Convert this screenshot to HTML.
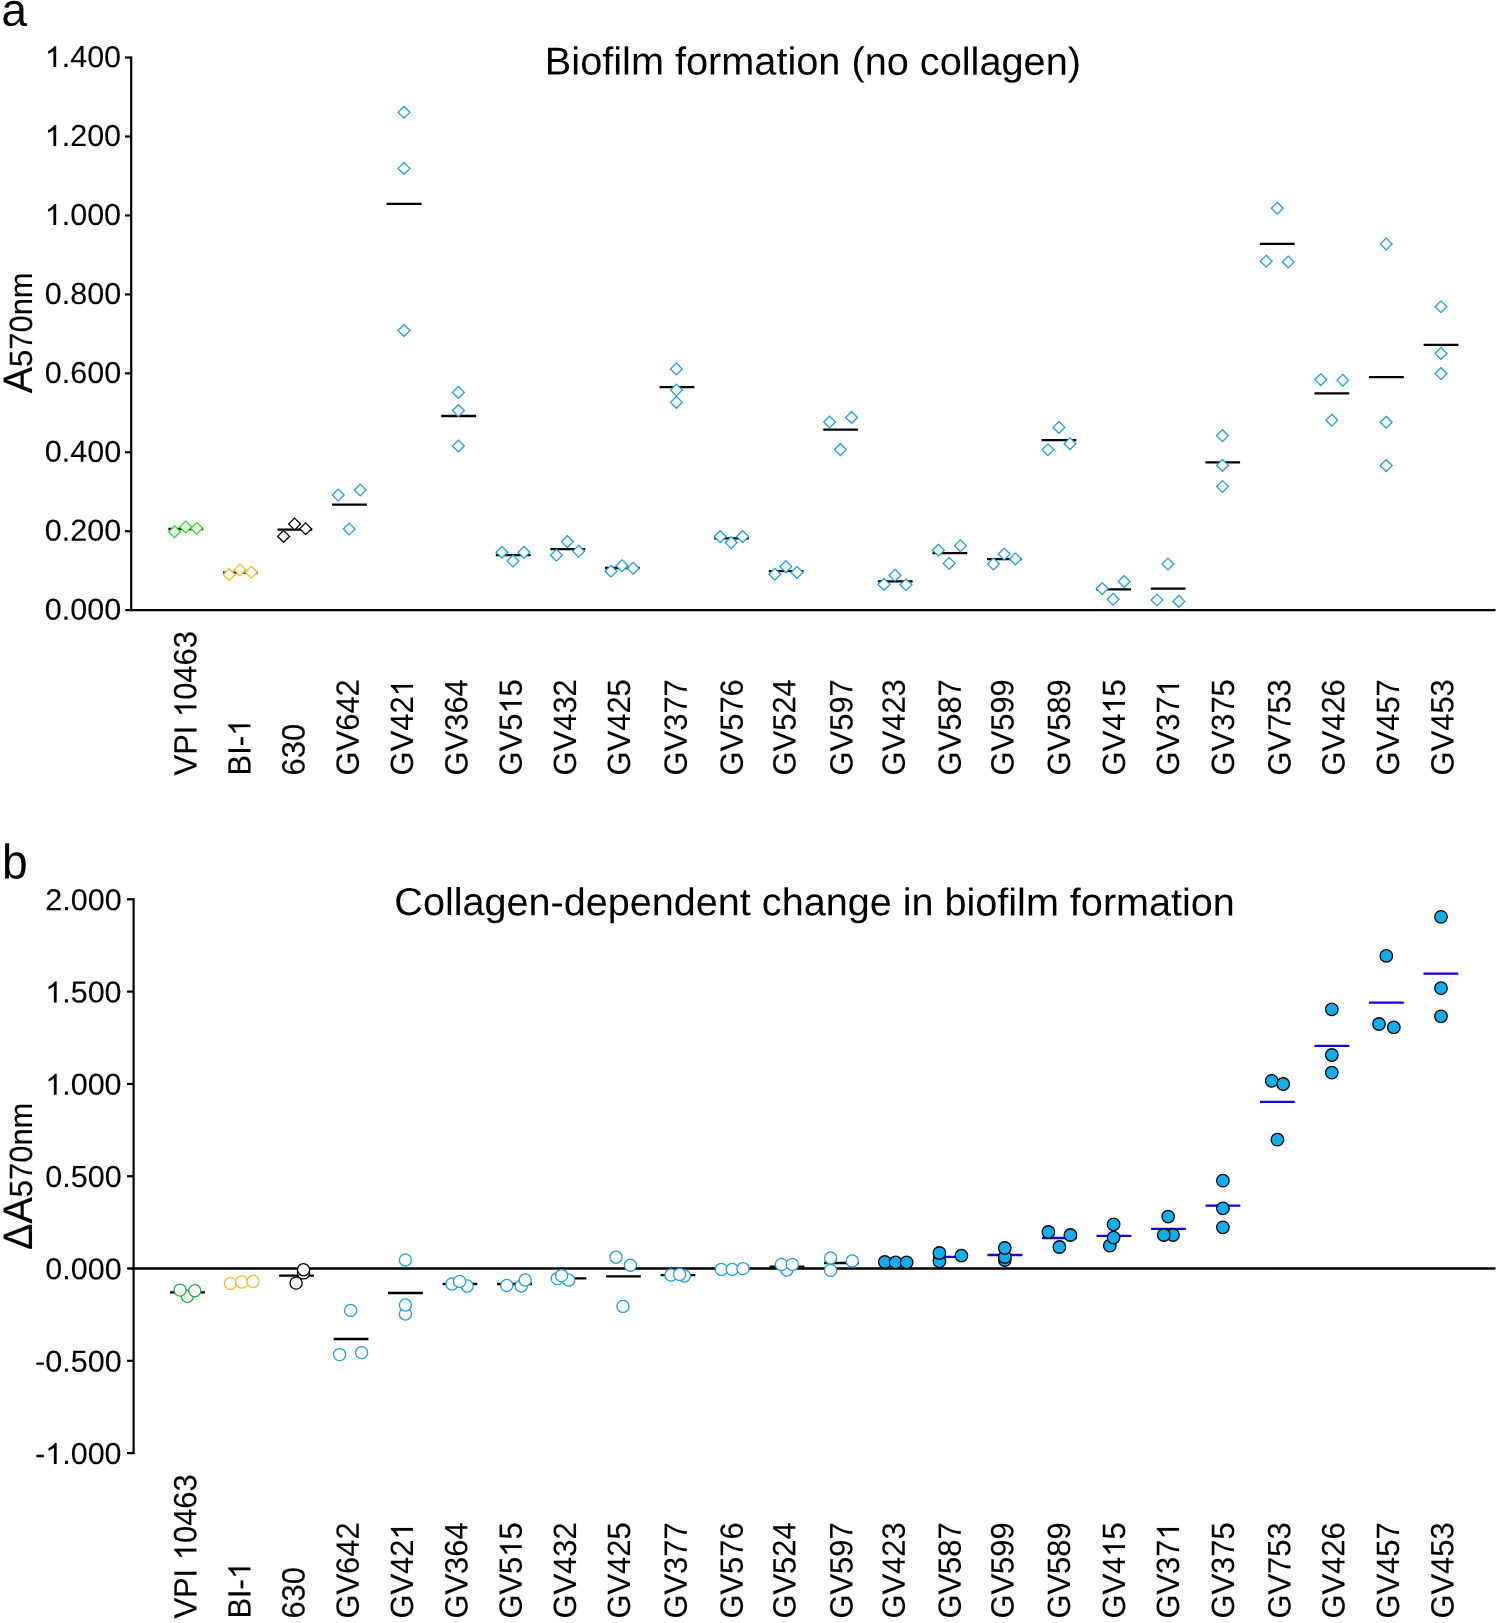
<!DOCTYPE html>
<html><head><meta charset="utf-8"><title>Biofilm formation</title>
<style>html,body{margin:0;padding:0;background:#fff}svg{display:block;will-change:transform}text{font-family:"Liberation Sans",sans-serif;fill:#000;stroke:#000;stroke-width:0.12px}.h{fill:none;stroke:none}.ns{stroke:none}</style>
</head><body>
<svg width="1499" height="1623" viewBox="0 0 1499 1623">
<rect width="1499" height="1623" fill="#fff"/>
<text class="ns" transform="translate(1.20,25.80) rotate(0.03) scale(1.0,1)" font-size="46.4" text-anchor="start">a</text>
<text class="ns" transform="translate(2.10,878.60) rotate(0.03) scale(0.975,1.03)" font-size="47.3" text-anchor="start">b</text>
<text class="ns" transform="translate(812.90,74.60) rotate(0.03) scale(1.0,0.98)" font-size="39.7" text-anchor="middle">Biofilm formation (no collagen)</text>
<text class="ns" transform="translate(814.60,915.30) rotate(0.03) scale(1.0,0.98)" font-size="39.6" text-anchor="middle">Collagen-dependent change in biofilm formation</text>
<g stroke="#000" stroke-width="2.2" fill="none" stroke-linecap="butt">
<path d="M131.2,56.45 V610.1"/>
<path d="M126.1,610.1 H1494.7" stroke-width="2.3" stroke-linecap="round"/>
<path d="M125,531.25 H131.2"/>
<path d="M125,452.30 H131.2"/>
<path d="M125,373.35 H131.2"/>
<path d="M125,294.40 H131.2"/>
<path d="M125,215.45 H131.2"/>
<path d="M125,136.50 H131.2"/>
<path d="M125,57.55 H131.2"/>
</g>
<text transform="translate(121.10,619.80) rotate(0.03) scale(1.0,1)" font-size="30.5" text-anchor="end">0.000</text>
<text transform="translate(121.10,540.85) rotate(0.03) scale(1.0,1)" font-size="30.5" text-anchor="end">0.200</text>
<text transform="translate(121.10,461.90) rotate(0.03) scale(1.0,1)" font-size="30.5" text-anchor="end">0.400</text>
<text transform="translate(121.10,382.95) rotate(0.03) scale(1.0,1)" font-size="30.5" text-anchor="end">0.600</text>
<text transform="translate(121.10,304.00) rotate(0.03) scale(1.0,1)" font-size="30.5" text-anchor="end">0.800</text>
<text transform="translate(121.10,225.05) rotate(0.03) scale(1.0,1)" font-size="30.5" text-anchor="end"><tspan class="h">1</tspan>.000</text>
<text transform="translate(121.10,146.10) rotate(0.03) scale(1.0,1)" font-size="30.5" text-anchor="end"><tspan class="h">1</tspan>.200</text>
<text transform="translate(121.10,67.15) rotate(0.03) scale(1.0,1)" font-size="30.5" text-anchor="end"><tspan class="h">1</tspan>.400</text>
<g stroke="#000" stroke-width="2.2" fill="none">
<path d="M133.6,898.2 V1454.2"/>
<path d="M128.1,1268.5 H1494.6" stroke-width="2.3" stroke-linecap="round"/>
<path d="M127,899.30 H133.6"/>
<path d="M127,991.60 H133.6"/>
<path d="M127,1083.90 H133.6"/>
<path d="M127,1176.20 H133.6"/>
<path d="M127,1360.80 H133.6"/>
<path d="M127,1453.10 H133.6"/>
</g>
<text transform="translate(121.60,910.20) rotate(0.03) scale(1.0,1)" font-size="30.5" text-anchor="end">2.000</text>
<text transform="translate(121.60,1002.50) rotate(0.03) scale(1.0,1)" font-size="30.5" text-anchor="end"><tspan class="h">1</tspan>.500</text>
<text transform="translate(121.60,1094.80) rotate(0.03) scale(1.0,1)" font-size="30.5" text-anchor="end"><tspan class="h">1</tspan>.000</text>
<text transform="translate(121.60,1187.10) rotate(0.03) scale(1.0,1)" font-size="30.5" text-anchor="end">0.500</text>
<text transform="translate(121.60,1279.40) rotate(0.03) scale(1.0,1)" font-size="30.5" text-anchor="end">0.000</text>
<text transform="translate(121.60,1371.70) rotate(0.03) scale(1.0,1)" font-size="30.5" text-anchor="end">-0.500</text>
<text transform="translate(121.60,1464.00) rotate(0.03) scale(1.0,1)" font-size="30.5" text-anchor="end">-<tspan class="h">1</tspan>.000</text>
<text transform="translate(32.1,393.3) rotate(-90.03) scale(1,1.04)"><tspan font-size="39.6">A</tspan><tspan font-size="30.9">570nm</tspan></text>
<text transform="translate(32.1,1250.0) rotate(-90.03) scale(1,1.04)"><tspan font-size="39.6">&#916;A</tspan><tspan font-size="30.9">570nm</tspan></text>
<text transform="translate(196.40,775.40) rotate(-90.03) scale(1,1.04)" font-size="30.9">VPI <tspan class="h">1</tspan>0463</text>
<text transform="translate(196.40,1618.60) rotate(-90.03) scale(1,1.04)" font-size="30.9">VPI <tspan class="h">1</tspan>0463</text>
<text transform="translate(250.40,775.40) rotate(-90.03) scale(1,1.04)" font-size="30.9">BI-<tspan class="h">1</tspan></text>
<text transform="translate(250.40,1618.60) rotate(-90.03) scale(1,1.04)" font-size="30.9">BI-<tspan class="h">1</tspan></text>
<text transform="translate(304.60,775.40) rotate(-90.03) scale(1,1.04)" font-size="30.9">630</text>
<text transform="translate(304.60,1618.60) rotate(-90.03) scale(1,1.04)" font-size="30.9">630</text>
<text transform="translate(358.80,775.40) rotate(-90.03) scale(1,1.04)" font-size="30.9">GV642</text>
<text transform="translate(358.80,1618.60) rotate(-90.03) scale(1,1.04)" font-size="30.9">GV642</text>
<text transform="translate(413.00,775.40) rotate(-90.03) scale(1,1.04)" font-size="30.9">GV42<tspan class="h">1</tspan></text>
<text transform="translate(413.00,1618.60) rotate(-90.03) scale(1,1.04)" font-size="30.9">GV42<tspan class="h">1</tspan></text>
<text transform="translate(467.40,775.40) rotate(-90.03) scale(1,1.04)" font-size="30.9">GV364</text>
<text transform="translate(467.40,1618.60) rotate(-90.03) scale(1,1.04)" font-size="30.9">GV364</text>
<text transform="translate(521.80,775.40) rotate(-90.03) scale(1,1.04)" font-size="30.9">GV5<tspan class="h">1</tspan>5</text>
<text transform="translate(521.80,1618.60) rotate(-90.03) scale(1,1.04)" font-size="30.9">GV5<tspan class="h">1</tspan>5</text>
<text transform="translate(576.00,775.40) rotate(-90.03) scale(1,1.04)" font-size="30.9">GV432</text>
<text transform="translate(576.00,1618.60) rotate(-90.03) scale(1,1.04)" font-size="30.9">GV432</text>
<text transform="translate(630.00,775.40) rotate(-90.03) scale(1,1.04)" font-size="30.9">GV425</text>
<text transform="translate(630.00,1618.60) rotate(-90.03) scale(1,1.04)" font-size="30.9">GV425</text>
<text transform="translate(686.80,775.40) rotate(-90.03) scale(1,1.04)" font-size="30.9">GV377</text>
<text transform="translate(686.80,1618.60) rotate(-90.03) scale(1,1.04)" font-size="30.9">GV377</text>
<text transform="translate(742.80,775.40) rotate(-90.03) scale(1,1.04)" font-size="30.9">GV576</text>
<text transform="translate(742.80,1618.60) rotate(-90.03) scale(1,1.04)" font-size="30.9">GV576</text>
<text transform="translate(795.40,775.40) rotate(-90.03) scale(1,1.04)" font-size="30.9">GV524</text>
<text transform="translate(795.40,1618.60) rotate(-90.03) scale(1,1.04)" font-size="30.9">GV524</text>
<text transform="translate(852.40,775.40) rotate(-90.03) scale(1,1.04)" font-size="30.9">GV597</text>
<text transform="translate(852.40,1618.60) rotate(-90.03) scale(1,1.04)" font-size="30.9">GV597</text>
<text transform="translate(904.80,775.40) rotate(-90.03) scale(1,1.04)" font-size="30.9">GV423</text>
<text transform="translate(904.80,1618.60) rotate(-90.03) scale(1,1.04)" font-size="30.9">GV423</text>
<text transform="translate(960.80,775.40) rotate(-90.03) scale(1,1.04)" font-size="30.9">GV587</text>
<text transform="translate(960.80,1618.60) rotate(-90.03) scale(1,1.04)" font-size="30.9">GV587</text>
<text transform="translate(1013.40,775.40) rotate(-90.03) scale(1,1.04)" font-size="30.9">GV599</text>
<text transform="translate(1013.40,1618.60) rotate(-90.03) scale(1,1.04)" font-size="30.9">GV599</text>
<text transform="translate(1070.00,775.40) rotate(-90.03) scale(1,1.04)" font-size="30.9">GV589</text>
<text transform="translate(1070.00,1618.60) rotate(-90.03) scale(1,1.04)" font-size="30.9">GV589</text>
<text transform="translate(1125.00,775.40) rotate(-90.03) scale(1,1.04)" font-size="30.9">GV4<tspan class="h">1</tspan>5</text>
<text transform="translate(1125.00,1618.60) rotate(-90.03) scale(1,1.04)" font-size="30.9">GV4<tspan class="h">1</tspan>5</text>
<text transform="translate(1179.00,775.40) rotate(-90.03) scale(1,1.04)" font-size="30.9">GV37<tspan class="h">1</tspan></text>
<text transform="translate(1179.00,1618.60) rotate(-90.03) scale(1,1.04)" font-size="30.9">GV37<tspan class="h">1</tspan></text>
<text transform="translate(1234.00,775.40) rotate(-90.03) scale(1,1.04)" font-size="30.9">GV375</text>
<text transform="translate(1234.00,1618.60) rotate(-90.03) scale(1,1.04)" font-size="30.9">GV375</text>
<text transform="translate(1290.40,775.40) rotate(-90.03) scale(1,1.04)" font-size="30.9">GV753</text>
<text transform="translate(1290.40,1618.60) rotate(-90.03) scale(1,1.04)" font-size="30.9">GV753</text>
<text transform="translate(1344.40,775.40) rotate(-90.03) scale(1,1.04)" font-size="30.9">GV426</text>
<text transform="translate(1344.40,1618.60) rotate(-90.03) scale(1,1.04)" font-size="30.9">GV426</text>
<text transform="translate(1399.10,775.40) rotate(-90.03) scale(1,1.04)" font-size="30.9">GV457</text>
<text transform="translate(1399.10,1618.60) rotate(-90.03) scale(1,1.04)" font-size="30.9">GV457</text>
<text transform="translate(1453.40,775.40) rotate(-90.03) scale(1,1.04)" font-size="30.9">GV453</text>
<text transform="translate(1453.40,1618.60) rotate(-90.03) scale(1,1.04)" font-size="30.9">GV453</text>
<g stroke="#000" stroke-width="2.3" fill="none">
<path d="M168.40,529.0 H203.20"/>
<path d="M222.97,572.6 H257.77"/>
<path d="M277.55,529.6 H312.35"/>
<path d="M332.12,504.6 H366.92"/>
<path d="M386.70,203.8 H421.50"/>
<path d="M441.27,416.0 H476.07"/>
<path d="M495.84,555.2 H530.64"/>
<path d="M550.42,549.2 H585.22"/>
<path d="M604.99,568.0 H639.79"/>
<path d="M659.57,387.2 H694.37"/>
<path d="M714.14,538.4 H748.94"/>
<path d="M768.71,571.2 H803.51"/>
<path d="M823.29,429.6 H858.09"/>
<path d="M877.86,581.4 H912.66"/>
<path d="M932.44,553.2 H967.24"/>
<path d="M987.01,559.2 H1021.81"/>
<path d="M1041.58,440.2 H1076.38"/>
<path d="M1096.16,589.4 H1130.96"/>
<path d="M1150.73,588.6 H1185.53"/>
<path d="M1205.31,462.4 H1240.11"/>
<path d="M1259.88,243.8 H1294.68"/>
<path d="M1314.45,393.4 H1349.25"/>
<path d="M1369.03,377.2 H1403.83"/>
<path d="M1423.60,344.8 H1458.40"/>
</g>
<g fill="#fff" stroke-width="1.3" stroke-linejoin="miter">
<path stroke="#1ee61e" d="M174.60,525.90 L180.50,531.80 L174.60,537.70 L168.70,531.80 Z"/>
<path stroke="#1ee61e" d="M185.65,521.10 L191.55,527.00 L185.65,532.90 L179.75,527.00 Z"/>
<path stroke="#1ee61e" d="M196.70,522.40 L202.60,528.30 L196.70,534.20 L190.80,528.30 Z"/>
<path stroke="#f2ba20" d="M229.20,568.70 L235.10,574.60 L229.20,580.50 L223.30,574.60 Z"/>
<path stroke="#f2ba20" d="M240.00,564.10 L245.90,570.00 L240.00,575.90 L234.10,570.00 Z"/>
<path stroke="#f2ba20" d="M251.20,566.30 L257.10,572.20 L251.20,578.10 L245.30,572.20 Z"/>
<path stroke="#000" d="M283.60,530.50 L289.50,536.40 L283.60,542.30 L277.70,536.40 Z"/>
<path stroke="#000" d="M294.60,518.10 L300.50,524.00 L294.60,529.90 L288.70,524.00 Z"/>
<path stroke="#000" d="M305.60,522.90 L311.50,528.80 L305.60,534.70 L299.70,528.80 Z"/>
<path stroke="#1b9fdd" d="M338.20,489.10 L344.10,495.00 L338.20,500.90 L332.30,495.00 Z"/>
<path stroke="#1b9fdd" d="M360.20,484.10 L366.10,490.00 L360.20,495.90 L354.30,490.00 Z"/>
<path stroke="#1b9fdd" d="M349.20,523.10 L355.10,529.00 L349.20,534.90 L343.30,529.00 Z"/>
<path stroke="#1b9fdd" d="M404.00,106.30 L409.90,112.20 L404.00,118.10 L398.10,112.20 Z"/>
<path stroke="#1b9fdd" d="M404.00,162.50 L409.90,168.40 L404.00,174.30 L398.10,168.40 Z"/>
<path stroke="#1b9fdd" d="M404.00,324.70 L409.90,330.60 L404.00,336.50 L398.10,330.60 Z"/>
<path stroke="#1b9fdd" d="M458.40,386.50 L464.30,392.40 L458.40,398.30 L452.50,392.40 Z"/>
<path stroke="#1b9fdd" d="M458.40,404.70 L464.30,410.60 L458.40,416.50 L452.50,410.60 Z"/>
<path stroke="#1b9fdd" d="M458.40,440.10 L464.30,446.00 L458.40,451.90 L452.50,446.00 Z"/>
<path stroke="#1b9fdd" d="M502.00,546.30 L507.90,552.20 L502.00,558.10 L496.10,552.20 Z"/>
<path stroke="#1b9fdd" d="M513.00,555.10 L518.90,561.00 L513.00,566.90 L507.10,561.00 Z"/>
<path stroke="#1b9fdd" d="M524.00,546.30 L529.90,552.20 L524.00,558.10 L518.10,552.20 Z"/>
<path stroke="#1b9fdd" d="M556.40,549.30 L562.30,555.20 L556.40,561.10 L550.50,555.20 Z"/>
<path stroke="#1b9fdd" d="M567.40,535.70 L573.30,541.60 L567.40,547.50 L561.50,541.60 Z"/>
<path stroke="#1b9fdd" d="M578.60,545.30 L584.50,551.20 L578.60,557.10 L572.70,551.20 Z"/>
<path stroke="#1b9fdd" d="M611.00,565.30 L616.90,571.20 L611.00,577.10 L605.10,571.20 Z"/>
<path stroke="#1b9fdd" d="M622.00,559.90 L627.90,565.80 L622.00,571.70 L616.10,565.80 Z"/>
<path stroke="#1b9fdd" d="M633.20,562.30 L639.10,568.20 L633.20,574.10 L627.30,568.20 Z"/>
<path stroke="#1b9fdd" d="M676.40,363.10 L682.30,369.00 L676.40,374.90 L670.50,369.00 Z"/>
<path stroke="#1b9fdd" d="M676.40,384.10 L682.30,390.00 L676.40,395.90 L670.50,390.00 Z"/>
<path stroke="#1b9fdd" d="M676.40,396.50 L682.30,402.40 L676.40,408.30 L670.50,402.40 Z"/>
<path stroke="#1b9fdd" d="M720.20,530.70 L726.10,536.60 L720.20,542.50 L714.30,536.60 Z"/>
<path stroke="#1b9fdd" d="M731.20,536.70 L737.10,542.60 L731.20,548.50 L725.30,542.60 Z"/>
<path stroke="#1b9fdd" d="M742.60,530.70 L748.50,536.60 L742.60,542.50 L736.70,536.60 Z"/>
<path stroke="#1b9fdd" d="M774.80,568.30 L780.70,574.20 L774.80,580.10 L768.90,574.20 Z"/>
<path stroke="#1b9fdd" d="M785.80,560.70 L791.70,566.60 L785.80,572.50 L779.90,566.60 Z"/>
<path stroke="#1b9fdd" d="M797.00,566.50 L802.90,572.40 L797.00,578.30 L791.10,572.40 Z"/>
<path stroke="#1b9fdd" d="M829.60,416.10 L835.50,422.00 L829.60,427.90 L823.70,422.00 Z"/>
<path stroke="#1b9fdd" d="M851.60,411.50 L857.50,417.40 L851.60,423.30 L845.70,417.40 Z"/>
<path stroke="#1b9fdd" d="M840.40,443.70 L846.30,449.60 L840.40,455.50 L834.50,449.60 Z"/>
<path stroke="#1b9fdd" d="M884.00,578.50 L889.90,584.40 L884.00,590.30 L878.10,584.40 Z"/>
<path stroke="#1b9fdd" d="M895.00,569.30 L900.90,575.20 L895.00,581.10 L889.10,575.20 Z"/>
<path stroke="#1b9fdd" d="M906.00,578.90 L911.90,584.80 L906.00,590.70 L900.10,584.80 Z"/>
<path stroke="#1b9fdd" d="M938.40,544.30 L944.30,550.20 L938.40,556.10 L932.50,550.20 Z"/>
<path stroke="#1b9fdd" d="M960.40,539.90 L966.30,545.80 L960.40,551.70 L954.50,545.80 Z"/>
<path stroke="#1b9fdd" d="M949.20,557.50 L955.10,563.40 L949.20,569.30 L943.30,563.40 Z"/>
<path stroke="#1b9fdd" d="M993.40,558.10 L999.30,564.00 L993.40,569.90 L987.50,564.00 Z"/>
<path stroke="#1b9fdd" d="M1004.20,548.10 L1010.10,554.00 L1004.20,559.90 L998.30,554.00 Z"/>
<path stroke="#1b9fdd" d="M1015.40,553.10 L1021.30,559.00 L1015.40,564.90 L1009.50,559.00 Z"/>
<path stroke="#1b9fdd" d="M1048.00,443.90 L1053.90,449.80 L1048.00,455.70 L1042.10,449.80 Z"/>
<path stroke="#1b9fdd" d="M1059.00,421.50 L1064.90,427.40 L1059.00,433.30 L1053.10,427.40 Z"/>
<path stroke="#1b9fdd" d="M1070.00,437.90 L1075.90,443.80 L1070.00,449.70 L1064.10,443.80 Z"/>
<path stroke="#1b9fdd" d="M1102.20,582.70 L1108.10,588.60 L1102.20,594.50 L1096.30,588.60 Z"/>
<path stroke="#1b9fdd" d="M1124.20,575.50 L1130.10,581.40 L1124.20,587.30 L1118.30,581.40 Z"/>
<path stroke="#1b9fdd" d="M1113.20,593.30 L1119.10,599.20 L1113.20,605.10 L1107.30,599.20 Z"/>
<path stroke="#1b9fdd" d="M1168.00,558.10 L1173.90,564.00 L1168.00,569.90 L1162.10,564.00 Z"/>
<path stroke="#1b9fdd" d="M1157.00,594.10 L1162.90,600.00 L1157.00,605.90 L1151.10,600.00 Z"/>
<path stroke="#1b9fdd" d="M1178.80,595.50 L1184.70,601.40 L1178.80,607.30 L1172.90,601.40 Z"/>
<path stroke="#1b9fdd" d="M1222.50,429.70 L1228.40,435.60 L1222.50,441.50 L1216.60,435.60 Z"/>
<path stroke="#1b9fdd" d="M1222.50,459.50 L1228.40,465.40 L1222.50,471.30 L1216.60,465.40 Z"/>
<path stroke="#1b9fdd" d="M1222.50,480.60 L1228.40,486.50 L1222.50,492.40 L1216.60,486.50 Z"/>
<path stroke="#1b9fdd" d="M1277.20,202.30 L1283.10,208.20 L1277.20,214.10 L1271.30,208.20 Z"/>
<path stroke="#1b9fdd" d="M1266.20,255.30 L1272.10,261.20 L1266.20,267.10 L1260.30,261.20 Z"/>
<path stroke="#1b9fdd" d="M1288.20,256.10 L1294.10,262.00 L1288.20,267.90 L1282.30,262.00 Z"/>
<path stroke="#1b9fdd" d="M1320.80,373.70 L1326.70,379.60 L1320.80,385.50 L1314.90,379.60 Z"/>
<path stroke="#1b9fdd" d="M1342.80,374.30 L1348.70,380.20 L1342.80,386.10 L1336.90,380.20 Z"/>
<path stroke="#1b9fdd" d="M1331.80,414.30 L1337.70,420.20 L1331.80,426.10 L1325.90,420.20 Z"/>
<path stroke="#1b9fdd" d="M1386.20,238.10 L1392.10,244.00 L1386.20,249.90 L1380.30,244.00 Z"/>
<path stroke="#1b9fdd" d="M1386.20,416.30 L1392.10,422.20 L1386.20,428.10 L1380.30,422.20 Z"/>
<path stroke="#1b9fdd" d="M1386.20,459.70 L1392.10,465.60 L1386.20,471.50 L1380.30,465.60 Z"/>
<path stroke="#1b9fdd" d="M1441.00,300.90 L1446.90,306.80 L1441.00,312.70 L1435.10,306.80 Z"/>
<path stroke="#1b9fdd" d="M1441.00,347.50 L1446.90,353.40 L1441.00,359.30 L1435.10,353.40 Z"/>
<path stroke="#1b9fdd" d="M1441.00,367.70 L1446.90,373.60 L1441.00,379.50 L1435.10,373.60 Z"/>
</g>
<g stroke-width="2.3" fill="none">
<path stroke="#000" d="M170.10,1292.4 H204.90"/>
<path stroke="#000" d="M225.60,1282.3 H258.40"/>
<path stroke="#000" d="M279.09,1275.6 H313.89"/>
<path stroke="#000" d="M333.59,1339.0 H368.39"/>
<path stroke="#000" d="M388.08,1293.0 H422.88"/>
<path stroke="#000" d="M442.58,1284.0 H477.38"/>
<path stroke="#000" d="M497.08,1284.0 H531.88"/>
<path stroke="#000" d="M551.57,1278.4 H586.37"/>
<path stroke="#000" d="M606.07,1276.4 H640.87"/>
<path stroke="#000" d="M660.56,1275.2 H695.36"/>
<path stroke="#000" d="M716.06,1269.1 H748.86"/>
<path stroke="#000" d="M769.56,1266.6 H804.36"/>
<path stroke="#000" d="M824.05,1263.0 H858.85"/>
<path stroke="#1200e6" d="M879.55,1262.3 H912.35"/>
<path stroke="#1200e6" d="M933.04,1256.8 H967.84"/>
<path stroke="#1200e6" d="M987.54,1255.0 H1022.34"/>
<path stroke="#1200e6" d="M1042.04,1238.0 H1076.84"/>
<path stroke="#1200e6" d="M1096.53,1235.8 H1131.33"/>
<path stroke="#1200e6" d="M1151.03,1228.8 H1185.83"/>
<path stroke="#1200e6" d="M1205.52,1205.7 H1240.32"/>
<path stroke="#1200e6" d="M1260.02,1101.8 H1294.82"/>
<path stroke="#1200e6" d="M1314.52,1045.8 H1349.32"/>
<path stroke="#1200e6" d="M1369.01,1002.7 H1403.81"/>
<path stroke="#1200e6" d="M1423.51,973.7 H1458.31"/>
</g>
<g stroke-width="1.3">
<circle cx="187.40" cy="1296.30" r="6.05" fill="#fff" stroke="#1fa84f"/>
<circle cx="180.07" cy="1290.10" r="6.05" fill="#fff" stroke="#1fa84f"/>
<circle cx="194.80" cy="1290.70" r="6.05" fill="#fff" stroke="#1fa84f"/>
<circle cx="230.40" cy="1283.40" r="6.05" fill="#fff" stroke="#f5b92a"/>
<circle cx="241.65" cy="1282.00" r="6.05" fill="#fff" stroke="#f5b92a"/>
<circle cx="253.10" cy="1281.50" r="6.05" fill="#fff" stroke="#f5b92a"/>
<circle cx="303.55" cy="1272.90" r="6.05" fill="#fff" stroke="#000"/>
<circle cx="296.10" cy="1283.10" r="6.05" fill="#fff" stroke="#000"/>
<circle cx="303.55" cy="1269.75" r="6.05" fill="#fff" stroke="#000"/>
<circle cx="350.60" cy="1310.40" r="6.05" fill="#fff" stroke="#1b9fdd"/>
<circle cx="339.60" cy="1354.60" r="6.05" fill="#fff" stroke="#1b9fdd"/>
<circle cx="361.60" cy="1352.60" r="6.05" fill="#fff" stroke="#1b9fdd"/>
<circle cx="405.40" cy="1260.00" r="6.05" fill="#fff" stroke="#1b9fdd"/>
<circle cx="405.40" cy="1314.00" r="6.05" fill="#fff" stroke="#1b9fdd"/>
<circle cx="405.40" cy="1305.00" r="6.05" fill="#fff" stroke="#1b9fdd"/>
<circle cx="452.00" cy="1284.00" r="6.05" fill="#fff" stroke="#1b9fdd"/>
<circle cx="467.20" cy="1286.00" r="6.05" fill="#fff" stroke="#1b9fdd"/>
<circle cx="459.60" cy="1281.40" r="6.05" fill="#fff" stroke="#1b9fdd"/>
<circle cx="506.80" cy="1285.40" r="6.05" fill="#fff" stroke="#1b9fdd"/>
<circle cx="521.20" cy="1286.00" r="6.05" fill="#fff" stroke="#1b9fdd"/>
<circle cx="525.20" cy="1280.00" r="6.05" fill="#fff" stroke="#1b9fdd"/>
<circle cx="557.20" cy="1278.60" r="6.05" fill="#fff" stroke="#1b9fdd"/>
<circle cx="568.60" cy="1280.00" r="6.05" fill="#fff" stroke="#1b9fdd"/>
<circle cx="561.60" cy="1275.60" r="6.05" fill="#fff" stroke="#1b9fdd"/>
<circle cx="616.00" cy="1257.20" r="6.05" fill="#fff" stroke="#1b9fdd"/>
<circle cx="630.40" cy="1265.20" r="6.05" fill="#fff" stroke="#1b9fdd"/>
<circle cx="623.00" cy="1306.40" r="6.05" fill="#fff" stroke="#1b9fdd"/>
<circle cx="671.00" cy="1275.00" r="6.05" fill="#fff" stroke="#1b9fdd"/>
<circle cx="684.40" cy="1276.00" r="6.05" fill="#fff" stroke="#1b9fdd"/>
<circle cx="679.60" cy="1274.40" r="6.05" fill="#fff" stroke="#1b9fdd"/>
<circle cx="721.40" cy="1269.40" r="6.05" fill="#fff" stroke="#1b9fdd"/>
<circle cx="732.20" cy="1269.40" r="6.05" fill="#fff" stroke="#1b9fdd"/>
<circle cx="743.00" cy="1268.60" r="6.05" fill="#fff" stroke="#1b9fdd"/>
<circle cx="786.80" cy="1270.00" r="6.05" fill="#fff" stroke="#1b9fdd"/>
<circle cx="781.40" cy="1264.40" r="6.05" fill="#fff" stroke="#1b9fdd"/>
<circle cx="792.40" cy="1264.40" r="6.05" fill="#fff" stroke="#1b9fdd"/>
<circle cx="830.60" cy="1270.40" r="6.05" fill="#fff" stroke="#1b9fdd"/>
<circle cx="830.60" cy="1258.00" r="6.05" fill="#fff" stroke="#1b9fdd"/>
<circle cx="852.20" cy="1261.00" r="6.05" fill="#fff" stroke="#1b9fdd"/>
<circle cx="884.80" cy="1262.00" r="6.25" fill="#0cafef" stroke="#000"/>
<circle cx="895.60" cy="1262.40" r="6.25" fill="#0cafef" stroke="#000"/>
<circle cx="906.60" cy="1262.40" r="6.25" fill="#0cafef" stroke="#000"/>
<circle cx="939.40" cy="1261.40" r="6.25" fill="#0cafef" stroke="#000"/>
<circle cx="939.40" cy="1253.00" r="6.25" fill="#0cafef" stroke="#000"/>
<circle cx="961.40" cy="1255.60" r="6.25" fill="#0cafef" stroke="#000"/>
<circle cx="1004.80" cy="1260.00" r="6.25" fill="#0cafef" stroke="#000"/>
<circle cx="1004.80" cy="1257.00" r="6.25" fill="#0cafef" stroke="#000"/>
<circle cx="1004.80" cy="1248.00" r="6.25" fill="#0cafef" stroke="#000"/>
<circle cx="1048.40" cy="1232.00" r="6.25" fill="#0cafef" stroke="#000"/>
<circle cx="1070.40" cy="1235.00" r="6.25" fill="#0cafef" stroke="#000"/>
<circle cx="1059.40" cy="1247.00" r="6.25" fill="#0cafef" stroke="#000"/>
<circle cx="1113.60" cy="1224.40" r="6.25" fill="#0cafef" stroke="#000"/>
<circle cx="1109.80" cy="1245.60" r="6.25" fill="#0cafef" stroke="#000"/>
<circle cx="1113.60" cy="1237.60" r="6.25" fill="#0cafef" stroke="#000"/>
<circle cx="1168.20" cy="1216.60" r="6.25" fill="#0cafef" stroke="#000"/>
<circle cx="1173.00" cy="1235.00" r="6.25" fill="#0cafef" stroke="#000"/>
<circle cx="1163.80" cy="1235.00" r="6.25" fill="#0cafef" stroke="#000"/>
<circle cx="1222.90" cy="1180.70" r="6.25" fill="#0cafef" stroke="#000"/>
<circle cx="1222.90" cy="1208.40" r="6.25" fill="#0cafef" stroke="#000"/>
<circle cx="1222.90" cy="1227.30" r="6.25" fill="#0cafef" stroke="#000"/>
<circle cx="1271.70" cy="1080.80" r="6.25" fill="#0cafef" stroke="#000"/>
<circle cx="1283.20" cy="1084.00" r="6.25" fill="#0cafef" stroke="#000"/>
<circle cx="1277.40" cy="1139.70" r="6.25" fill="#0cafef" stroke="#000"/>
<circle cx="1331.80" cy="1009.40" r="6.25" fill="#0cafef" stroke="#000"/>
<circle cx="1331.80" cy="1055.00" r="6.25" fill="#0cafef" stroke="#000"/>
<circle cx="1331.80" cy="1072.60" r="6.25" fill="#0cafef" stroke="#000"/>
<circle cx="1386.30" cy="955.90" r="6.25" fill="#0cafef" stroke="#000"/>
<circle cx="1379.00" cy="1024.00" r="6.25" fill="#0cafef" stroke="#000"/>
<circle cx="1393.80" cy="1027.40" r="6.25" fill="#0cafef" stroke="#000"/>
<circle cx="1441.00" cy="916.80" r="6.25" fill="#0cafef" stroke="#000"/>
<circle cx="1441.00" cy="988.20" r="6.25" fill="#0cafef" stroke="#000"/>
<circle cx="1441.00" cy="1016.30" r="6.25" fill="#0cafef" stroke="#000"/>
</g>
<g fill="#000" stroke="#000" stroke-width="0.12" stroke-linejoin="miter">
<path transform="translate(121.10,225.05) rotate(0.03) scale(1.0,1) translate(-76.344,0.000) scale(0.014893,-0.014893)" d="M763,0H583V1102Q518,1043 412,983Q307,924 223,894V1061Q374,1129 487,1226Q600,1323 647,1409H763Z" vector-effect="non-scaling-stroke"/>
<path transform="translate(121.10,146.10) rotate(0.03) scale(1.0,1) translate(-76.344,0.000) scale(0.014893,-0.014893)" d="M763,0H583V1102Q518,1043 412,983Q307,924 223,894V1061Q374,1129 487,1226Q600,1323 647,1409H763Z" vector-effect="non-scaling-stroke"/>
<path transform="translate(121.10,67.15) rotate(0.03) scale(1.0,1) translate(-76.344,0.000) scale(0.014893,-0.014893)" d="M763,0H583V1102Q518,1043 412,983Q307,924 223,894V1061Q374,1129 487,1226Q600,1323 647,1409H763Z" vector-effect="non-scaling-stroke"/>
<path transform="translate(121.60,1002.50) rotate(0.03) scale(1.0,1) translate(-76.344,0.000) scale(0.014893,-0.014893)" d="M763,0H583V1102Q518,1043 412,983Q307,924 223,894V1061Q374,1129 487,1226Q600,1323 647,1409H763Z" vector-effect="non-scaling-stroke"/>
<path transform="translate(121.60,1094.80) rotate(0.03) scale(1.0,1) translate(-76.344,0.000) scale(0.014893,-0.014893)" d="M763,0H583V1102Q518,1043 412,983Q307,924 223,894V1061Q374,1129 487,1226Q600,1323 647,1409H763Z" vector-effect="non-scaling-stroke"/>
<path transform="translate(121.60,1464.00) rotate(0.03) scale(1.0,1) translate(-76.344,0.000) scale(0.014893,-0.014893)" d="M763,0H583V1102Q518,1043 412,983Q307,924 223,894V1061Q374,1129 487,1226Q600,1323 647,1409H763Z" vector-effect="non-scaling-stroke"/>
<path transform="translate(196.40,775.40) rotate(-90.03) scale(1,1.04) translate(58.383,0.000) scale(0.015088,-0.015088)" d="M763,0H583V1102Q518,1043 412,983Q307,924 223,894V1061Q374,1129 487,1226Q600,1323 647,1409H763Z" vector-effect="non-scaling-stroke"/>
<path transform="translate(196.40,1618.60) rotate(-90.03) scale(1,1.04) translate(58.383,0.000) scale(0.015088,-0.015088)" d="M763,0H583V1102Q518,1043 412,983Q307,924 223,894V1061Q374,1129 487,1226Q600,1323 647,1409H763Z" vector-effect="non-scaling-stroke"/>
<path transform="translate(250.40,775.40) rotate(-90.03) scale(1,1.04) translate(39.484,0.000) scale(0.015088,-0.015088)" d="M763,0H583V1102Q518,1043 412,983Q307,924 223,894V1061Q374,1129 487,1226Q600,1323 647,1409H763Z" vector-effect="non-scaling-stroke"/>
<path transform="translate(250.40,1618.60) rotate(-90.03) scale(1,1.04) translate(39.484,0.000) scale(0.015088,-0.015088)" d="M763,0H583V1102Q518,1043 412,983Q307,924 223,894V1061Q374,1129 487,1226Q600,1323 647,1409H763Z" vector-effect="non-scaling-stroke"/>
<path transform="translate(413.00,775.40) rotate(-90.03) scale(1,1.04) translate(78.998,0.000) scale(0.015088,-0.015088)" d="M763,0H583V1102Q518,1043 412,983Q307,924 223,894V1061Q374,1129 487,1226Q600,1323 647,1409H763Z" vector-effect="non-scaling-stroke"/>
<path transform="translate(413.00,1618.60) rotate(-90.03) scale(1,1.04) translate(78.998,0.000) scale(0.015088,-0.015088)" d="M763,0H583V1102Q518,1043 412,983Q307,924 223,894V1061Q374,1129 487,1226Q600,1323 647,1409H763Z" vector-effect="non-scaling-stroke"/>
<path transform="translate(521.80,775.40) rotate(-90.03) scale(1,1.04) translate(61.814,0.000) scale(0.015088,-0.015088)" d="M763,0H583V1102Q518,1043 412,983Q307,924 223,894V1061Q374,1129 487,1226Q600,1323 647,1409H763Z" vector-effect="non-scaling-stroke"/>
<path transform="translate(521.80,1618.60) rotate(-90.03) scale(1,1.04) translate(61.814,0.000) scale(0.015088,-0.015088)" d="M763,0H583V1102Q518,1043 412,983Q307,924 223,894V1061Q374,1129 487,1226Q600,1323 647,1409H763Z" vector-effect="non-scaling-stroke"/>
<path transform="translate(1125.00,775.40) rotate(-90.03) scale(1,1.04) translate(61.814,0.000) scale(0.015088,-0.015088)" d="M763,0H583V1102Q518,1043 412,983Q307,924 223,894V1061Q374,1129 487,1226Q600,1323 647,1409H763Z" vector-effect="non-scaling-stroke"/>
<path transform="translate(1125.00,1618.60) rotate(-90.03) scale(1,1.04) translate(61.814,0.000) scale(0.015088,-0.015088)" d="M763,0H583V1102Q518,1043 412,983Q307,924 223,894V1061Q374,1129 487,1226Q600,1323 647,1409H763Z" vector-effect="non-scaling-stroke"/>
<path transform="translate(1179.00,775.40) rotate(-90.03) scale(1,1.04) translate(78.998,0.000) scale(0.015088,-0.015088)" d="M763,0H583V1102Q518,1043 412,983Q307,924 223,894V1061Q374,1129 487,1226Q600,1323 647,1409H763Z" vector-effect="non-scaling-stroke"/>
<path transform="translate(1179.00,1618.60) rotate(-90.03) scale(1,1.04) translate(78.998,0.000) scale(0.015088,-0.015088)" d="M763,0H583V1102Q518,1043 412,983Q307,924 223,894V1061Q374,1129 487,1226Q600,1323 647,1409H763Z" vector-effect="non-scaling-stroke"/>
</g>
</svg></body></html>
